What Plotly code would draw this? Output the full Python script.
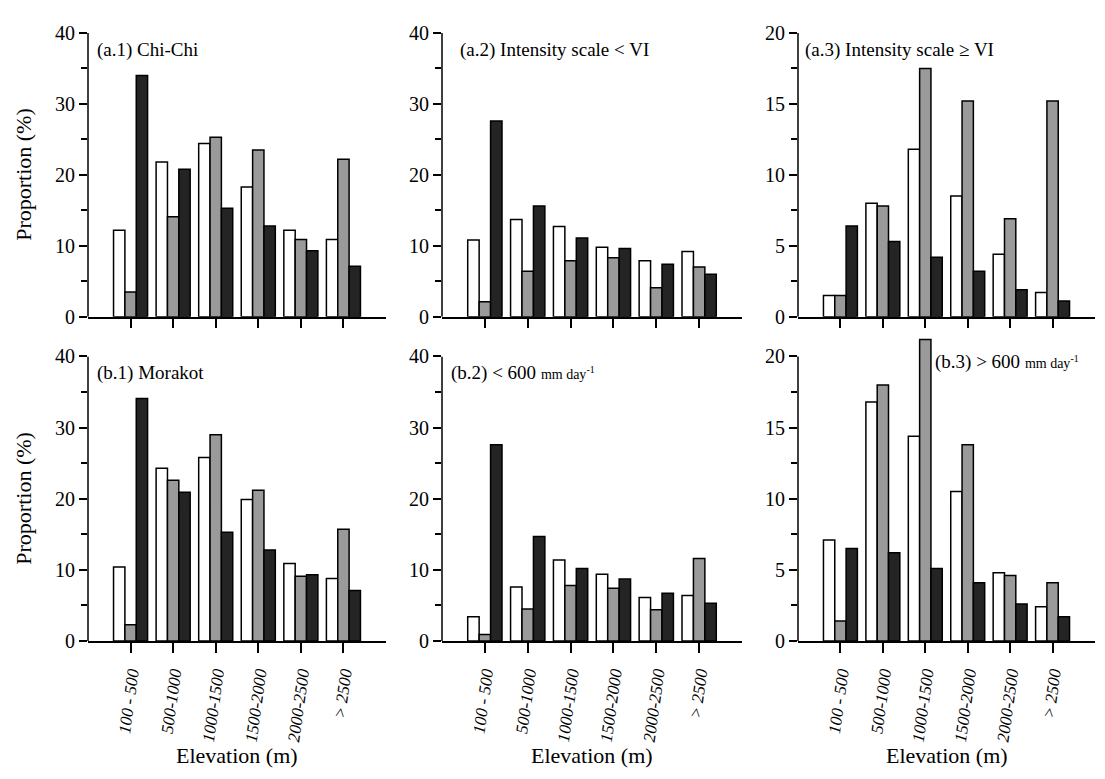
import plotly.graph_objects as go

categories = ["100 - 500", "500-1000", "1000-1500", "1500-2000", "2000-2500", "&gt; 2500"]
positions = [0, 1, 2, 3, 4, 5]

a1_white = [12.2, 21.8, 24.4, 18.3, 12.2, 10.9]
a1_gray = [3.5, 14.1, 25.3, 23.5, 10.9, 22.2]
a1_black = [34.0, 20.8, 15.3, 12.8, 9.3, 7.1]

a2_white = [10.8, 13.7, 12.7, 9.8, 7.9, 9.2]
a2_gray = [2.1, 6.4, 7.9, 8.3, 4.1, 7.0]
a2_black = [27.6, 15.6, 11.1, 9.6, 7.4, 6.0]

a3_white = [1.5, 8.0, 11.8, 8.5, 4.4, 1.7]
a3_gray = [1.5, 7.8, 17.5, 15.2, 6.9, 15.2]
a3_black = [6.4, 5.3, 4.2, 3.2, 1.9, 1.1]

b1_white = [10.4, 24.3, 25.8, 19.9, 10.9, 8.8]
b1_gray = [2.3, 22.6, 29.0, 21.2, 9.1, 15.7]
b1_black = [34.1, 20.9, 15.3, 12.8, 9.3, 7.1]

b2_white = [3.4, 7.6, 11.4, 9.4, 6.1, 6.4]
b2_gray = [0.9, 4.5, 7.8, 7.4, 4.4, 11.6]
b2_black = [27.6, 14.7, 10.2, 8.7, 6.7, 5.3]

b3_white = [7.1, 16.8, 14.4, 10.5, 4.8, 2.4]
b3_gray = [1.4, 18.0, 21.2, 13.8, 4.6, 4.1]
b3_black = [6.5, 6.2, 5.1, 4.1, 2.6, 1.7]

panel_titles = [
    "(a.1) Chi-Chi",
    "(a.2) Intensity scale &lt; VI",
    "(a.3) Intensity scale \u2265 VI",
    "(b.1) Morakot",
    "(b.2) &lt; 600 <span style='font-size:14px'>mm day<sup>-1</sup></span>",
    "(b.3) &gt; 600 <span style='font-size:14px'>mm day<sup>-1</sup></span>",
]
y_max = [40, 40, 20, 40, 40, 20]       # top of the drawn axis line
y_view = [40, 40, 20, 40, 40, 21.8]    # visible range (b.3 bar rises above the axis top)
y_major = [10, 10, 5, 10, 10, 5]

panels = [
    (a1_white, a1_gray, a1_black),
    (a2_white, a2_gray, a2_black),
    (a3_white, a3_gray, a3_black),
    (b1_white, b1_gray, b1_black),
    (b2_white, b2_gray, b2_black),
    (b3_white, b3_gray, b3_black),
]

W, H = 1105, 779
FONT = "Liberation Serif, Times New Roman, serif"
fill_colors = ["white", "#9a9a9a", "#242424"]

col_px = [(88, 386), (442, 742), (798, 1095)]
row_px = [(22.6, 314.6), (355.5, 648.3)]
title_px = [(95, 40), (458, 40), (803, 40), (95, 373), (449, 373), (933, 361)]

fig = go.Figure()
layout = dict(
    width=W, height=H,
    margin=dict(l=0, r=0, t=0, b=0),
    paper_bgcolor="white", plot_bgcolor="white",
    barmode="group", bargap=0.2, bargroupgap=0,
    showlegend=False,
    font=dict(family=FONT, color="black"),
)
annotations = []
shapes = []

for i, vals in enumerate(panels):
    r, c = divmod(i, 3)
    ax = "" if i == 0 else str(i + 1)
    for v, col in zip(vals, fill_colors):
        fig.add_trace(go.Bar(
            x=positions, y=v, xaxis="x" + ax, yaxis="y" + ax,
            marker=dict(color=col, line=dict(color="black", width=1.5)),
        ))
    x0, x1 = col_px[c]
    y0, y1 = row_px[r]
    ppu = (y1 - y0) / y_max[i]
    top_px = y1 - ppu * y_view[i]
    layout["xaxis" + ax] = dict(
        domain=[x0 / W, x1 / W], anchor="y" + ax, range=[-1, 6],
        tickvals=positions, ticktext=categories,
        showticklabels=(r == 1), tickangle=-82,
        tickfont=dict(family=FONT, size=17, style="italic", color="black"),
        ticklabelstandoff=4,
        ticks="outside", ticklen=10, tickwidth=1.5, tickcolor="black",
        showline=True, linecolor="black", linewidth=1.5,
        showgrid=False, zeroline=False, fixedrange=True,
    )
    layout["yaxis" + ax] = dict(
        domain=[1 - y1 / H, 1 - top_px / H], anchor="x" + ax, range=[0, y_view[i]],
        tickvals=list(range(0, y_max[i] + 1, y_major[i])),
        tickfont=dict(family=FONT, size=20, color="black"),
        ticks="outside", ticklen=8, tickwidth=1.5, tickcolor="black",
        minor=dict(tickvals=[k + y_major[i] / 2 for k in range(0, y_max[i], y_major[i])],
                   ticks="outside", ticklen=6, tickwidth=1.5, tickcolor="black"),
        ticklabelstandoff=0,
        showline=False,
        showgrid=False, zeroline=False, fixedrange=True,
    )
    shapes.append(dict(
        type="line", xref="x" + ax + " domain", yref="y" + ax,
        x0=0, x1=0, y0=0, y1=y_max[i],
        line=dict(color="black", width=1.5), layer="above",
    ))
    tx, ty = title_px[i]
    annotations.append(dict(
        text=panel_titles[i], xref="paper", yref="paper",
        x=tx / W, y=1 - ty / H, xanchor="left", yanchor="middle",
        showarrow=False, font=dict(family=FONT, size=19, color="black"),
    ))

for c in range(3):
    x0, x1 = col_px[c]
    annotations.append(dict(
        text="Elevation (m)", xref="paper", yref="paper",
        x=(x0 + x1) / 2 / W, y=1 - 766 / H, xanchor="center", yanchor="middle",
        showarrow=False, font=dict(family=FONT, size=22, color="black"),
    ))
for r in range(2):
    y0, y1 = row_px[r]
    annotations.append(dict(
        text="Proportion (%)", xref="paper", yref="paper",
        x=24 / W, y=1 - (y0 + y1) / 2 / H, xanchor="center", yanchor="middle",
        textangle=-90, showarrow=False, font=dict(family=FONT, size=22, color="black"),
    ))

layout["annotations"] = annotations
layout["shapes"] = shapes
fig.update_layout(**layout)

fig.write_html(
    "out.html",
    config={"displayModeBar": False},
    post_script="document.body.style.margin='0';document.body.style.overflow='hidden';",
)
